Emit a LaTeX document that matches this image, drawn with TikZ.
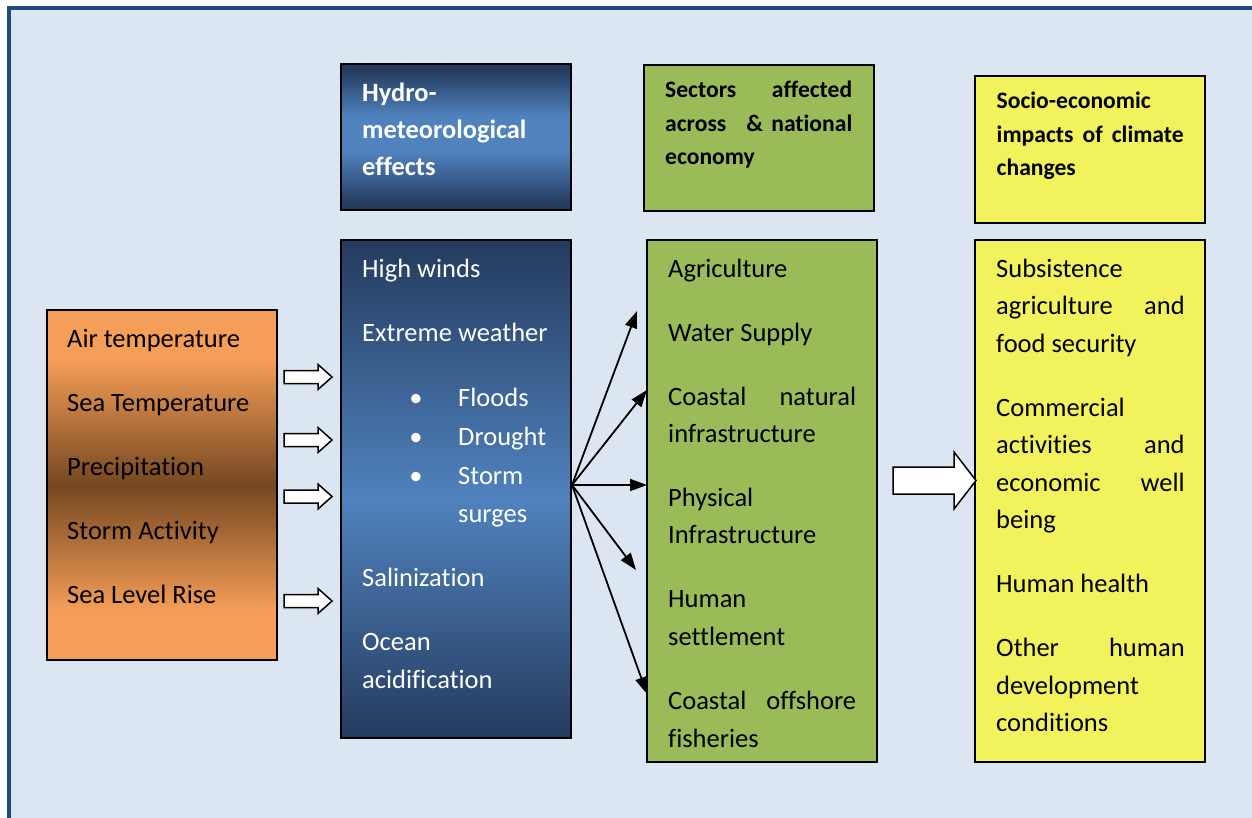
\documentclass[tikz,border=0pt]{standalone}
\usepackage{fontspec}
\setmainfont{Carlito}[Ligatures={NoCommon,NoContextual}]
\usetikzlibrary{arrows.meta}

\definecolor{framebg}{RGB}{220,230,242}
\definecolor{frameline}{RGB}{31,73,125}
\definecolor{orangelite}{RGB}{245,158,88}
\definecolor{orangedark}{RGB}{117,71,32}
\definecolor{bluedark}{RGB}{36,59,94}
\definecolor{bluelite}{RGB}{80,130,190}
\definecolor{greenfill}{RGB}{155,187,89}
\definecolor{yellowfill}{RGB}{242,242,92}

% vertical shadings (the path fills the 25bp--75bp band)
\pgfdeclareverticalshading{orangeband}{100bp}{color(0bp)=(orangelite); color(32bp)=(orangelite); color(50bp)=(orangedark); color(68bp)=(orangelite); color(100bp)=(orangelite)}
\pgfdeclareverticalshading{bluehead}{100bp}{color(0bp)=(bluedark); color(27bp)=(bluedark); color(45bp)=(bluelite); color(57bp)=(bluelite); color(73bp)=(bluedark); color(100bp)=(bluedark)}
\pgfdeclareverticalshading{bluebody}{100bp}{color(0bp)=(bluedark); color(25bp)=(bluedark); color(49bp)=(bluelite); color(75bp)=(bluedark); color(100bp)=(bluedark)}

\begin{document}
\begin{tikzpicture}[x=1pt,y=-1pt,
  box/.style={draw=black,line width=1.5pt,minimum width=230pt,inner sep=0pt},
  body/.style={anchor=base west,inner sep=0pt,font=\fontsize{26.5}{37.5}\selectfont},
  whitebody/.style={body,text=white},
  headbig/.style={anchor=base west,inner sep=0pt,text=white,font=\fontsize{26.4}{37}\selectfont\bfseries},
  headsmall/.style={anchor=base west,inner sep=0pt,font=\fontsize{23.6}{34}\selectfont\bfseries},
  bulletmark/.style={anchor=base,inner sep=0pt,text=white,font=\fontsize{26.5}{37.5}\selectfont},
  blockarrow/.style={draw=black,line width=1.5pt,fill=white,line join=miter},
  fan/.style={draw=black,line width=1.8pt,-{Triangle[length=17pt,width=12pt]}}
]
\useasboundingbox (0,0) rectangle (1252,818);
\clip (0,0) rectangle (1252,818);
\fill[white] (0,0) rectangle (1252,818);
\draw[line width=4pt,draw=frameline,fill=framebg] (9,8) rectangle (1280,850);

% ---- boxes ----
\node[box,shade,shading=orangeband,minimum height=350pt] (drivers) at (162,485) {};
\node[box,shade,shading=bluehead,minimum height=146pt] (hydrohead) at (456,137) {};
\node[box,shade,shading=bluebody,minimum height=498pt] (hydro) at (456,489) {};
\node[box,fill=greenfill,minimum height=146pt] (sectorhead) at (759,138) {};
\node[box,fill=greenfill,minimum height=522pt] (sectors) at (762,501) {};
\node[box,fill=yellowfill,minimum height=147pt] (impacthead) at (1090,149.5) {};
\node[box,fill=yellowfill,minimum height=522pt] (impacts) at (1090,501) {};

% ---- climate drivers ----
\node[body] (d1) at (67,347) {Air temperature};
\node[body] (d2) at (67,411) {Sea Temperature};
\node[body] (d3) at (67,475) {Precipitation};
\node[body] (d4) at (67,539) {Storm Activity};
\node[body] (d5) at (67,603) {Sea Level Rise};

% ---- hydro-meteorological effects ----
\node[headbig] (h1) at (362,101.5) {Hydro-};
\node[headbig] (h2) at (362,138.5) {meteorological};
\node[headbig] (h3) at (362,175.5) {effects};

\node[whitebody] (e1) at (362,277) {High winds};
\node[whitebody] (e2) at (362,341) {Extreme weather};
\node[bulletmark] (b1) at (416,406) {\textbullet};
\node[bulletmark] (b2) at (416,445) {\textbullet};
\node[bulletmark] (b3) at (416,484) {\textbullet};
\node[whitebody] (e3) at (458,406) {Floods};
\node[whitebody] (e4) at (458,445) {Drought};
\node[whitebody] (e5) at (458,484) {Storm};
\node[whitebody] (e6) at (458,522) {surges};
\node[whitebody] (e7) at (362,586) {Salinization};
\node[whitebody] (e8) at (362,650) {Ocean};
\node[whitebody] (e9) at (362,688) {acidification};

% ---- sectors ----
\node[headsmall] (s1) at (665,97.5) {\hbox to 187pt{Sectors\hfill affected}};
\node[headsmall] (s2) at (665,131.5) {\hbox to 187pt{across\hskip 20pt\&\hfill national}};
\node[headsmall] (s3) at (665,165) {economy};

\node[body] (c1) at (668,277) {Agriculture};
\node[body] (c2) at (668,341) {Water Supply};
\node[body] (c3) at (668,405) {\hbox to 188pt{Coastal\hfill natural}};
\node[body] (c4) at (668,442.5) {infrastructure};
\node[body] (c5) at (668,506) {Physical};
\node[body] (c6) at (668,543.5) {Infrastructure};
\node[body] (c7) at (668,607.5) {Human};
\node[body] (c8) at (668,645) {settlement};
\node[body] (c9) at (668,709.5) {\hbox to 188pt{Coastal\hfill offshore}};
\node[body] (c10) at (668,747) {fisheries};

% ---- socio-economic impacts ----
\node[headsmall] (i1) at (996.5,109) {Socio-economic};
\node[headsmall] (i2) at (996.5,142.5) {\hbox to 187pt{impacts\hfill of\hfill climate}};
\node[headsmall] (i3) at (996.5,176) {changes};

\node[body] (p1) at (996,277) {Subsistence};
\node[body] (p2) at (996,314) {\hbox to 188.5pt{agriculture\hfill and}};
\node[body] (p3) at (996,352) {food security};
\node[body] (p4) at (996,416) {Commercial};
\node[body] (p5) at (996,453) {\hbox to 188.5pt{activities\hfill and}};
\node[body] (p6) at (996,491) {\hbox to 188.5pt{economic\hfill well}};
\node[body] (p7) at (996,528) {being};
\node[body] (p8) at (996,592) {Human health};
\node[body] (p9) at (996,656) {\hbox to 188.5pt{Other\hfill human}};
\node[body] (p10) at (996,694) {development};
\node[body] (p11) at (996,731) {conditions};

% ---- block arrows from drivers to effects ----
\foreach \yy/\nm in {377/ba1,440/ba2,496.5/ba3,601/ba4}{
  \coordinate (\nm) at (284,\yy);
  \draw[blockarrow] (\nm) ++(0,-6.5) -- ++(34,0) -- ++(0,-6) -- ++(14,12.5)
        -- ++(-14,12.5) -- ++(0,-6) -- ++(-34,0) -- cycle;
}

% ---- fan of arrows from effects to sectors ----
\coordinate (fanroot) at (572,485);
\coordinate (t1) at (637,311);
\coordinate (t2) at (647,390);
\coordinate (t3) at (647,485);
\coordinate (t4) at (636,570);
\coordinate (t5) at (647,694);
\foreach \t in {t1,t2,t3,t4,t5}{\draw[fan] (fanroot) -- (\t);}

% ---- large block arrow from sectors to impacts ----
\coordinate (bigarrow) at (893,480.5);
\draw[blockarrow] (bigarrow) ++(0,-13.5) -- ++(61,0) -- ++(0,-15) -- ++(22,28.5)
      -- ++(-22,28.5) -- ++(0,-15) -- ++(-61,0) -- cycle;
\end{tikzpicture}
\end{document}
